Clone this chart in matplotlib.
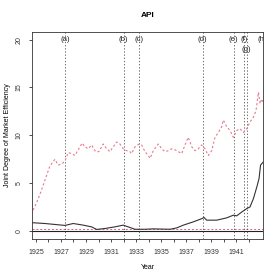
import matplotlib
matplotlib.use("Agg")
import matplotlib.pyplot as plt

# ---- data ----
red_years = [1924.78, 1925.1, 1925.4, 1925.72, 1926.12, 1926.52, 1926.78, 1927.05, 1927.32,
             1927.58, 1927.85, 1928.12, 1928.38, 1928.70, 1928.91, 1929.18, 1929.45,
             1929.77, 1930.03, 1930.38, 1930.65, 1930.91, 1931.17, 1931.45, 1931.71,
             1931.97, 1932.24, 1932.51, 1932.64, 1932.91, 1933.25, 1933.44, 1933.71,
             1933.97, 1934.11, 1934.37, 1934.77, 1935.04, 1935.30, 1935.57, 1935.84,
             1936.10, 1936.37, 1936.64, 1936.90, 1937.16, 1937.44, 1937.70, 1937.96,
             1938.23, 1938.50, 1938.76, 1939.03, 1939.30, 1939.56, 1939.83, 1939.96,
             1940.23, 1940.50, 1940.76, 1941.03, 1941.29, 1941.56, 1941.83, 1942.09,
             1942.36, 1942.57, 1942.76, 1942.89, 1943.03, 1943.13]
red_values = [2.2, 3.1, 4.1, 5.3, 6.8, 7.5, 6.9, 7.0, 7.3,
              8.2, 8.1, 7.9, 8.5, 9.2, 8.8, 8.6, 9.0,
              8.3, 8.3, 9.1, 8.6, 8.3, 8.8, 9.3, 9.1,
              8.6, 8.4, 8.3, 8.1, 8.8, 9.1, 9.0, 8.3,
              7.9, 7.6, 8.4, 9.1, 8.6, 8.3, 8.4, 8.6,
              8.5, 8.3, 8.1, 9.0, 9.8, 8.8, 8.4, 8.6,
              9.0, 8.6, 7.9, 8.4, 9.8, 10.3, 10.9, 11.6,
              10.9, 10.5, 9.8, 10.5, 10.7, 10.3, 10.7, 11.4,
              11.9, 12.6, 14.5, 13.3, 13.8, 13.5]

black_years = [1924.76, 1925.72, 1926.52, 1927.32, 1927.98, 1928.78, 1929.45, 1929.85,
               1930.51, 1931.31, 1931.97, 1932.37, 1932.91, 1933.71, 1934.37, 1935.70,
               1936.24, 1936.77, 1937.56, 1938.23, 1938.42, 1938.63, 1939.43, 1940.23,
               1940.76, 1941.03, 1941.43, 1941.83, 1942.09, 1942.36, 1942.63, 1942.81,
               1942.93, 1943.13]
black_values = [0.88, 0.8, 0.7, 0.6, 0.8, 0.63, 0.45, 0.18,
                0.28, 0.45, 0.63, 0.45, 0.2, 0.2, 0.24, 0.2,
                0.34, 0.63, 0.97, 1.3, 1.43, 1.15, 1.15, 1.39,
                1.67, 1.6, 2.0, 2.36, 2.53, 3.4, 4.6, 5.5,
                6.9, 7.2]

event_years = [1927.34, 1932.0, 1933.25, 1938.31, 1940.79, 1941.59, 1941.83, 1943.1]
event_labels = ["(a)", "(b)", "(c)", "(d)", "(e)", "(f)", "(g)", "(h)"]
event_label_y = [20, 20, 20, 20, 20, 20, 19, 20]

red_hline = 0.2
black_hline = 0.0

x_ticks = list(range(1925, 1943))
x_ticklabels = [str(y) if (y - 1925) % 2 == 0 else "" for y in x_ticks]
y_ticks = [0, 5, 10, 15, 20]

title = "API"
xlabel = "Year"
ylabel = "Joint Degree of Market Efficiency"

# ---- plot ----
plt.rcParams['font.family'] = ['Liberation Sans', 'DejaVu Sans']
fig = plt.figure(figsize=(2.8, 2.8), dpi=100)
ax = fig.add_axes([0.1155, 0.146, 0.824, 0.740])

ax.axhline(black_hline, color='#222222', lw=0.8)
ax.axhline(red_hline, color='#E0607A', lw=0.7, ls=(0, (2, 2)))
for yr in event_years:
    ax.axvline(yr, color='#555555', lw=0.6, ls=(0, (1.6, 2.2)))
for yr, lab, ly in zip(event_years, event_labels, event_label_y):
    ax.text(yr, ly, lab, ha='center', va='center', fontsize=5.6, color='#222222', clip_on=True)

ax.plot(red_years, red_values, color='#E8788E', lw=0.8, ls=(0, (2, 2)))
ax.plot(black_years, black_values, color='#333333', lw=0.8)

ax.set_xlim(1924.72, 1943.13)
ax.set_ylim(-0.83, 20.8)
ax.set_xticks(x_ticks)
ax.set_xticklabels(x_ticklabels)
ax.set_yticks(y_ticks)
ax.set_yticklabels([str(v) for v in y_ticks], rotation=90, va='center')
ax.tick_params(axis='both', labelsize=5, length=2.5, width=0.6, colors='#333333', pad=4.5)
for s in ax.spines.values():
    s.set_linewidth(0.6)
    s.set_color('#333333')

ax.set_title(title, fontsize=6, fontweight='bold', pad=11)
ax.set_xlabel(xlabel, fontsize=5, labelpad=6)
ax.set_ylabel(ylabel, fontsize=5, labelpad=3)

fig.savefig("out.png", dpi=100)
